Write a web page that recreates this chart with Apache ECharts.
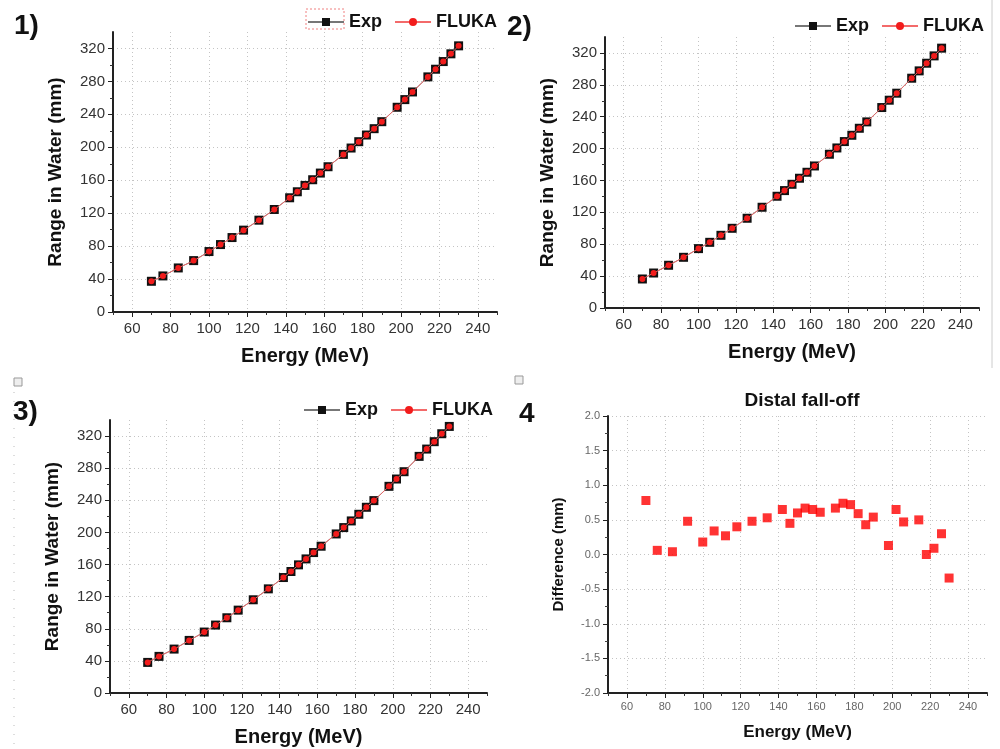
<!DOCTYPE html>
<html>
<head>
<meta charset="utf-8">
<script src="https://cdn.jsdelivr.net/npm/echarts@6/dist/echarts.min.js"></script>
<style>
  html, body { margin: 0; padding: 0; background: #fff; }
  #main { width: 1000px; height: 749px; }
</style>
</head>
<body>
<div id="main"></div>
<script>
// beam energies (MeV), same for all panels
var energy = [70, 76, 84, 92, 100, 106, 112, 118, 126, 134, 142, 146, 150, 154, 158, 162,
  170, 174, 178, 182, 186, 190, 198, 202, 206, 214, 218, 222, 226, 230];

// range in water (mm) per panel, Exp and FLUKA overlap in the picture
var range1 = [37.3, 43.8, 53.5, 62.4, 73.4, 81.9, 90.4, 99.4, 111.5, 124.5, 138.7, 146, 153.7, 160.6, 168.7, 176.4,
  191.4, 199.1, 206.8, 214.9, 222.6, 231.1, 248.6, 257.9, 267.2, 285.5, 294.8, 304.1, 313.5, 323.2];
var range2 = [36.4, 43.9, 53.6, 63.6, 74.5, 82.4, 91.2, 100, 112.6, 126.4, 140.2, 147.3, 155.2, 162.8, 170.3, 178.2,
  192.9, 200.8, 208.8, 216.7, 225.5, 233.5, 251.5, 260.7, 269.5, 288.3, 297.5, 307.1, 316.3, 326];
var range3 = [38.1, 45.6, 54.7, 65.5, 75.9, 84.6, 93.7, 103.2, 116.1, 129.7, 143.8, 151.3, 159.6, 167, 174.9, 182.8,
  198.1, 206, 214.3, 222.6, 231.3, 239.6, 257.4, 266.5, 275.6, 294.7, 303.8, 313, 322.9, 332];

// distal fall-off difference (mm)
var diff4 = [0.78, 0.06, 0.04, 0.48, 0.18, 0.34, 0.27, 0.40, 0.48, 0.53, 0.65, 0.45, 0.60, 0.67, 0.65, 0.61,
  0.67, 0.74, 0.72, 0.59, 0.43, 0.54, 0.13, 0.65, 0.47, 0.50, 0.0, 0.09, 0.30, -0.34];

var xTicks = [60, 80, 100, 120, 140, 160, 180, 200, 220, 240];
var xMinorTicks = [50, 70, 90, 110, 130, 150, 170, 190, 210, 230, 250];
var rangeTicks = [0, 40, 80, 120, 160, 200, 240, 280, 320];

var myChart = echarts.init(document.getElementById('main'));

var FONT = '"Liberation Sans", Arial, sans-serif';
var gridLine = { show: true, lineStyle: { color: '#c4c4c4', type: [1, 3], width: 1 } };

function pairs(ys) {
  return energy.map(function (e, i) { return [e, ys[i]]; });
}

function xAxisFor(idx, big) {
  return {
    type: 'value', gridIndex: idx, position: 'bottom', min: 50, max: 250,
    name: 'Energy (MeV)', nameLocation: 'middle', nameGap: big ? 34 : 31,
    nameTextStyle: { fontFamily: FONT, fontWeight: 'bold', fontSize: big ? 20 : 17, color: '#111' },
    axisLine: { show: true, onZero: false, lineStyle: { color: '#222', width: 2 } },
    axisTick: { show: true, customValues: xTicks, length: 5, lineStyle: { color: '#222' } },
    axisLabel: { customValues: xTicks, fontFamily: FONT, fontSize: big ? 15 : 11,
      color: big ? '#333' : '#666', margin: big ? 9 : 8 },
    splitLine: gridLine
  };
}

// second x axis on each grid, only for the small in-between ticks
function xMinorFor(idx) {
  return {
    type: 'value', gridIndex: idx, position: 'bottom', min: 50, max: 250,
    axisLine: { show: false, onZero: false },
    axisTick: { show: true, customValues: xMinorTicks, length: 3, lineStyle: { color: '#333' } },
    axisLabel: { show: false },
    splitLine: { show: false }
  };
}

function rangeAxis(idx) {
  return {
    type: 'value', gridIndex: idx, min: 0, max: 340, interval: 40,
    name: 'Range in Water (mm)', nameLocation: 'middle', nameGap: 48,
    nameTextStyle: { fontFamily: FONT, fontWeight: 'bold', fontSize: 19, color: '#111' },
    axisLine: { show: true, lineStyle: { color: '#222', width: 2 } },
    axisTick: { show: true, customValues: rangeTicks, length: 5, lineStyle: { color: '#222' } },
    minorTick: { show: true, splitNumber: 2, length: 3, lineStyle: { color: '#333' } },
    axisLabel: { customValues: rangeTicks, fontFamily: FONT, fontSize: 15, color: '#333', margin: 8 },
    splitLine: gridLine
  };
}

function rangeSeries(idx, ys) {
  var d = pairs(ys);
  return [
    { name: 'Exp', type: 'line', xAxisIndex: idx, yAxisIndex: idx, data: d,
      symbol: 'rect', symbolSize: 9, itemStyle: { color: '#111' },
      lineStyle: { color: '#777', width: 1 }, z: 2 },
    { name: 'FLUKA', type: 'line', xAxisIndex: idx, yAxisIndex: idx, data: d, smooth: true,
      symbol: 'circle', symbolSize: 6, itemStyle: { color: '#f21c1c' },
      lineStyle: { color: '#f36a6a', width: 1 }, z: 3 }
  ];
}

function legendAt(left, top) {
  return {
    left: left, top: top, padding: 0, itemWidth: 36, itemHeight: 10, itemGap: 12,
    data: ['Exp', 'FLUKA'], selectedMode: false,
    textStyle: { fontFamily: FONT, fontWeight: 'bold', fontSize: 18, color: '#111' }
  };
}

function label(text, x, y, size) {
  return { type: 'text', left: x, top: y,
    style: { text: text, fontFamily: FONT, fontWeight: 'bold', fontSize: size, fill: '#111' } };
}

var option = {
  animation: false,
  backgroundColor: '#fff',
  title: {
    text: 'Distal fall-off', left: 797, top: 386, textAlign: 'center',
    textStyle: { fontFamily: FONT, fontWeight: 'bold', fontSize: 19, color: '#111' }
  },
  legend: [legendAt(307, 13), legendAt(794, 17), legendAt(303, 401)],
  grid: [
    { left: 113, top: 32, width: 384, height: 280 },
    { left: 605, top: 37, width: 374, height: 271 },
    { left: 110, top: 420, width: 377, height: 273 },
    { left: 608, top: 416, width: 379, height: 277 }
  ],
  xAxis: [
    xAxisFor(0, true), xAxisFor(1, true), xAxisFor(2, true), xAxisFor(3, false),
    xMinorFor(0), xMinorFor(1), xMinorFor(2), xMinorFor(3)
  ],
  yAxis: [
    rangeAxis(0), rangeAxis(1), rangeAxis(2),
    {
      type: 'value', gridIndex: 3, min: -2, max: 2, interval: 0.5,
      name: 'Difference (mm)', nameLocation: 'middle', nameGap: 42,
      nameTextStyle: { fontFamily: FONT, fontWeight: 'bold', fontSize: 15, color: '#111' },
      axisLine: { show: true, lineStyle: { color: '#222', width: 2 } },
      axisTick: { show: true, length: 5, lineStyle: { color: '#222' } },
      minorTick: { show: true, splitNumber: 2, length: 3, lineStyle: { color: '#444' } },
      axisLabel: { fontFamily: FONT, fontSize: 11, color: '#666', margin: 8,
        formatter: function (v) { return v.toFixed(1); } },
      splitLine: gridLine
    }
  ],
  series: [].concat(
    rangeSeries(0, range1),
    rangeSeries(1, range2),
    rangeSeries(2, range3),
    [{ name: 'Difference', type: 'scatter', xAxisIndex: 3, yAxisIndex: 3, data: pairs(diff4),
      symbol: 'rect', symbolSize: 9, itemStyle: { color: '#ff0000' } }]
  ),
  graphic: [
    label('1)', 14, 12, 28),
    label('2)', 507, 13, 28),
    label('3)', 13, 398, 28),
    label('4', 519, 400, 28),
    // dashed selection box round the first legend item
    { type: 'rect', shape: { x: 306, y: 9, width: 38, height: 20 },
      style: { fill: 'none', stroke: '#f08080', lineDash: [2, 2], lineWidth: 1 } },
    // small image placeholders
    { type: 'rect', shape: { x: 14, y: 378, width: 8, height: 8 },
      style: { fill: '#eee', stroke: '#999', lineWidth: 1 } },
    { type: 'rect', shape: { x: 515, y: 376, width: 8, height: 8 },
      style: { fill: '#eee', stroke: '#999', lineWidth: 1 } },
    { type: 'line', shape: { x1: 14, y1: 392, x2: 14, y2: 749 },
      style: { stroke: '#bbb', lineDash: [1, 8], lineWidth: 1 } },
    { type: 'line', shape: { x1: 992, y1: 0, x2: 992, y2: 368 },
      style: { stroke: '#ccc', lineWidth: 1 } }
  ]
};

myChart.setOption(option);
</script>
</body>
</html>
